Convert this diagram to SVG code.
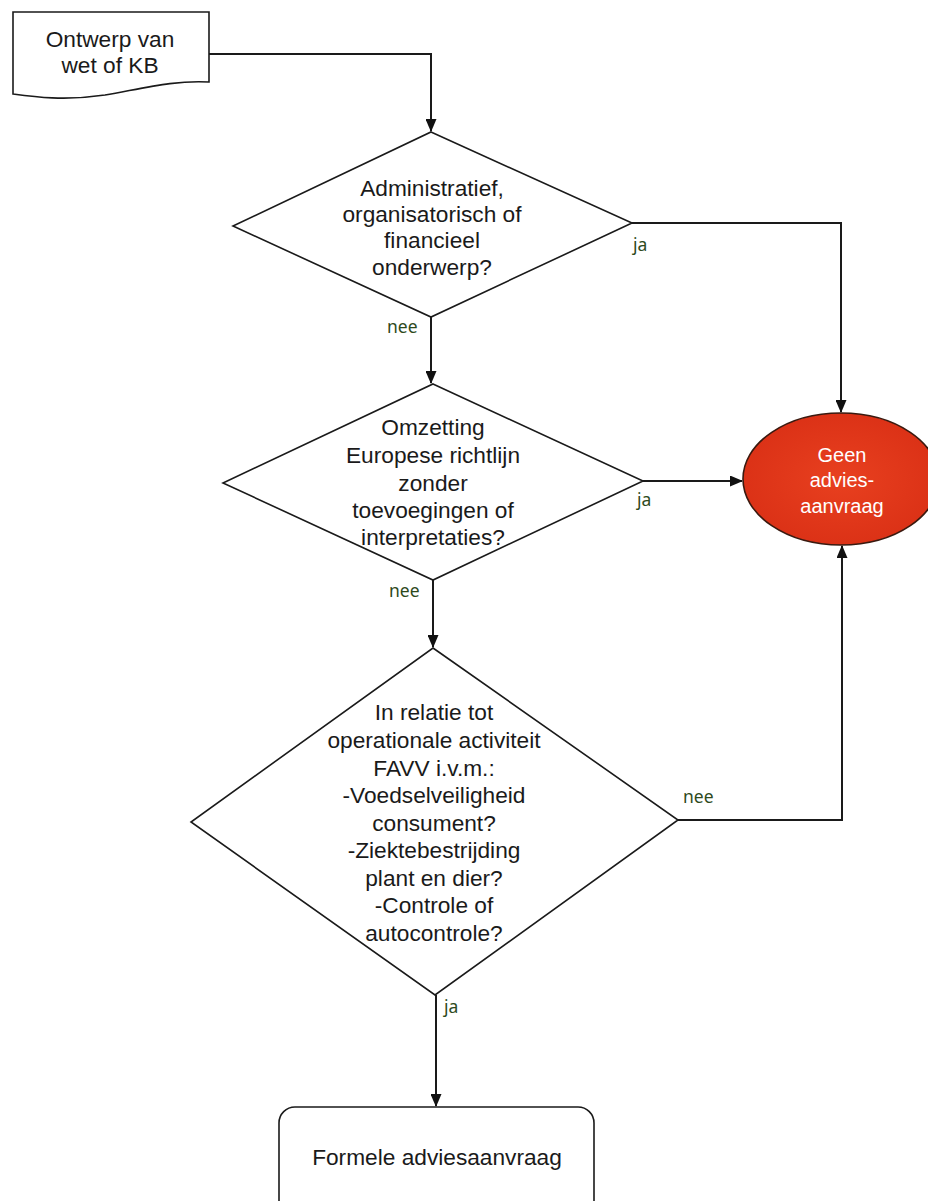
<svg xmlns="http://www.w3.org/2000/svg" width="928" height="1201" viewBox="0 0 928 1201">
<defs>
<marker id="arr" markerWidth="13" markerHeight="11" refX="12" refY="5.5" orient="auto" markerUnits="userSpaceOnUse">
<path d="M0,0 L13,5.5 L0,11 Z" fill="#111"/>
</marker>
<radialGradient id="red" cx="0.5" cy="0.5" r="0.6">
<stop offset="0" stop-color="#e8401f"/>
<stop offset="1" stop-color="#d92f15"/>
</radialGradient>
</defs>
<style>
.shape{fill:#fff;stroke:#1a1a1a;stroke-width:1.6}
.t{font-family:"Liberation Sans",Arial,sans-serif;font-size:22.7px;fill:#1a1a1a;text-anchor:middle}
.tw{font-family:"Liberation Sans",Arial,sans-serif;font-size:20px;fill:#fff;text-anchor:middle}
.lbl{font-family:"Noto Sans","DejaVu Sans",sans-serif;font-size:17.5px;fill:#2e4a1c}
.c{fill:none;stroke:#1a1a1a;stroke-width:2}
</style>
<rect width="928" height="1201" fill="#fff"/>
<g id="connectors">
<path class="c" d="M209,54 H431 V131" marker-end="url(#arr)"/>
<path class="c" d="M632,223 H841 V412" marker-end="url(#arr)"/>
<path class="c" d="M431,317 V383" marker-end="url(#arr)"/>
<path class="c" d="M643,481 H742" marker-end="url(#arr)"/>
<path class="c" d="M433,580 V647" marker-end="url(#arr)"/>
<path class="c" d="M678,820 H842 V546" marker-end="url(#arr)"/>
<path class="c" d="M436,995 V1106" marker-end="url(#arr)"/>
<text class="lbl" x="633" y="251">ja</text>
<text class="lbl" x="387" y="333">nee</text>
<text class="lbl" x="637" y="506">ja</text>
<text class="lbl" x="389" y="597">nee</text>
<text class="lbl" x="683" y="803">nee</text>
<text class="lbl" x="444" y="1013">ja</text>
</g>
<g id="start">
<path class="shape" d="M13,12 H209 V82 C175,80 145,88 105,95 C65,101 35,97 13,94 Z"/>
<text class="t" x="110" y="47">Ontwerp van</text>
<text class="t" x="110" y="73">wet of KB</text>
</g>
<g id="decision1">
<path class="shape" d="M431,132 L632,223 L431,317 L233,226 Z"/>
<text class="t" x="432" y="196">Administratief,</text>
<text class="t" x="432" y="222">organisatorisch of</text>
<text class="t" x="432" y="248">financieel</text>
<text class="t" x="432" y="275">onderwerp?</text>
</g>
<g id="decision2">
<path class="shape" d="M433,384 L643,481 L433,580 L223,483 Z"/>
<text class="t" x="433" y="435">Omzetting</text>
<text class="t" x="433" y="463">Europese richtlijn</text>
<text class="t" x="433" y="491">zonder</text>
<text class="t" x="433" y="518">toevoegingen of</text>
<text class="t" x="433" y="545">interpretaties?</text>
</g>
<g id="decision3">
<path class="shape" d="M433,648 L678,820 L435,995 L191,822 Z"/>
<text class="t" x="434" y="720">In relatie tot</text>
<text class="t" x="434" y="748">operationale activiteit</text>
<text class="t" x="434" y="776">FAVV i.v.m.:</text>
<text class="t" x="434" y="803">-Voedselveiligheid</text>
<text class="t" x="434" y="831">consument?</text>
<text class="t" x="434" y="858">-Ziektebestrijding</text>
<text class="t" x="434" y="886">plant en dier?</text>
<text class="t" x="434" y="913">-Controle of</text>
<text class="t" x="434" y="941">autocontrole?</text>
</g>
<g id="geen-adviesaanvraag">
<ellipse cx="841" cy="479" rx="98" ry="66" fill="url(#red)" stroke="#3a1a10" stroke-width="1.6"/>
<text class="tw" x="842" y="462">Geen</text>
<text class="tw" x="842" y="487">advies-</text>
<text class="tw" x="842" y="513">aanvraag</text>
</g>
<g id="formele-adviesaanvraag">
<rect class="shape" x="279" y="1107" width="315" height="110" rx="16" ry="16"/>
<text class="t" x="437" y="1165">Formele adviesaanvraag</text>
</g>
</svg>
